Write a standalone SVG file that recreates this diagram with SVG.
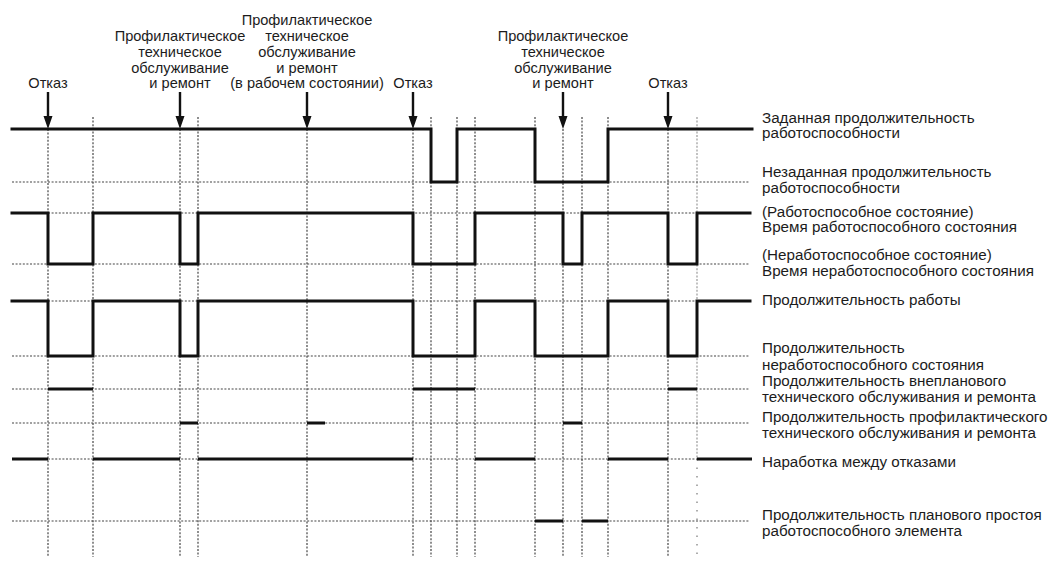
<svg xmlns="http://www.w3.org/2000/svg" width="1055" height="561" viewBox="0 0 1055 561">
<style>
  .t { font-family: "Liberation Sans", Arial, sans-serif; font-size: 14.6px; fill: #1c1c1c; }
  .r { font-size: 15.2px; }
  .m { text-anchor: middle; }
  .dash { stroke: #444; stroke-width: 1.2; stroke-dasharray: 2 1.6; fill: none; }
  .lite { stroke: #999; stroke-width: 1.2; stroke-dasharray: 2 1.6; fill: none; }
  .sig { stroke: #111; stroke-width: 3; fill: none; stroke-linejoin: miter; stroke-linecap: square; }
  .bar { stroke: #111; stroke-width: 3; fill: none; }
  .arrow { fill: #111; stroke: none; }
</style>
<rect width="1055" height="561" fill="#fff"/>

<g id="grid">
  <path class="dash" d="M48,129V557 M93,117V557 M180,129V557 M198,117V557 M307,129V557 M413,129V557 M431,117V557 M457,117V557 M475,117V557 M535,117V557 M563,129V557 M582,117V557 M608,117V557 M668,129V557"/>
  <path class="lite" d="M697,117V459"/>
  <path d="M697,459V557" stroke="#777" stroke-width="1.2" stroke-dasharray="1.5 7"/>
  <path class="dash" d="M12,182H750 M12,213H750 M12,264H750 M12,301H750 M12,356H750 M12,389H750 M12,423H750 M12,459H750 M12,521H750"/>
</g>

<g id="connectors">
  <path class="arrow" d="M46.8,92H49.2V116H52.5L48,129L43.5,116H46.8Z"/>
  <path class="arrow" d="M178.8,92H181.2V116H184.5L180,129L175.5,116H178.8Z"/>
  <path class="arrow" d="M305.8,92H308.2V116H311.5L307,129L302.5,116H305.8Z"/>
  <path class="arrow" d="M411.8,92H414.2V116H417.5L413,129L408.5,116H411.8Z"/>
  <path class="arrow" d="M561.8,92H564.2V116H567.5L563,129L558.5,116H561.8Z"/>
  <path class="arrow" d="M666.8,92H669.2V116H672.5L668,129L663.5,116H666.8Z"/>
</g>

<g id="row1-specified">
  <path class="sig" d="M12,129H431V182H457V129H535V182H608V129H752"/>
</g>
<g id="row2-up-state">
  <path class="sig" d="M12,213H48V264H93V213H180V264H198V213H413V264H475V213H563V264H582V213H668V264H697V213H750"/>
</g>
<g id="row3-operating">
  <path class="sig" d="M12,301H48V356H93V301H180V356H198V301H413V356H475V301H535V356H608V301H668V356H697V301H750"/>
</g>
<g id="row4-corrective">
  <path class="bar" d="M48,389H93 M413,389H475 M668,389H697"/>
</g>
<g id="row5-preventive">
  <path class="bar" d="M180,423H198 M307,423H325 M563,423H582"/>
</g>
<g id="row6-mtbf">
  <path class="bar" d="M12,459H48 M93,459H180 M198,459H413 M475,459H535 M608,459H668 M697,459H752"/>
</g>
<g id="row7-planned-idle">
  <path class="bar" d="M535,521H563 M582,521H608"/>
</g>

<g id="top-labels">
  <text class="t m" x="48" y="88">Отказ</text>
  <text class="t m" x="180" y="41">Профилактическое</text>
  <text class="t m" x="180" y="57">техническое</text>
  <text class="t m" x="180" y="73">обслуживание</text>
  <text class="t m" x="180" y="88">и ремонт</text>
  <text class="t m" x="307" y="25">Профилактическое</text>
  <text class="t m" x="307" y="41">техническое</text>
  <text class="t m" x="307" y="57">обслуживание</text>
  <text class="t m" x="307" y="73">и ремонт</text>
  <text class="t m" x="307" y="88">(в рабочем состоянии)</text>
  <text class="t m" x="413" y="88">Отказ</text>
  <text class="t m" x="563" y="41">Профилактическое</text>
  <text class="t m" x="563" y="57">техническое</text>
  <text class="t m" x="563" y="73">обслуживание</text>
  <text class="t m" x="563" y="88">и ремонт</text>
  <text class="t m" x="668" y="88">Отказ</text>
</g>

<g id="right-labels">
  <text class="t r" x="762" y="123">Заданная продолжительность</text>
  <text class="t r" x="762" y="138">работоспособности</text>
  <text class="t r" x="762" y="177">Незаданная продолжительность</text>
  <text class="t r" x="762" y="193">работоспособности</text>
  <text class="t r" x="762" y="217">(Работоспособное состояние)</text>
  <text class="t r" x="762" y="232">Время работоспособного состояния</text>
  <text class="t r" x="762" y="260">(Неработоспособное состояние)</text>
  <text class="t r" x="762" y="276">Время неработоспособного состояния</text>
  <text class="t r" x="762" y="305">Продолжительность работы</text>
  <text class="t r" x="762" y="353">Продолжительность</text>
  <text class="t r" x="762" y="370">неработоспособного состояния</text>
  <text class="t r" x="762" y="386">Продолжительность внепланового</text>
  <text class="t r" x="762" y="402">технического обслуживания и ремонта</text>
  <text class="t r" x="762" y="422">Продолжительность профилактического</text>
  <text class="t r" x="762" y="438">технического обслуживания и ремонта</text>
  <text class="t r" x="762" y="467">Наработка между отказами</text>
  <text class="t r" x="762" y="520">Продолжительность планового простоя</text>
  <text class="t r" x="762" y="536">работоспособного элемента</text>
</g>
</svg>
